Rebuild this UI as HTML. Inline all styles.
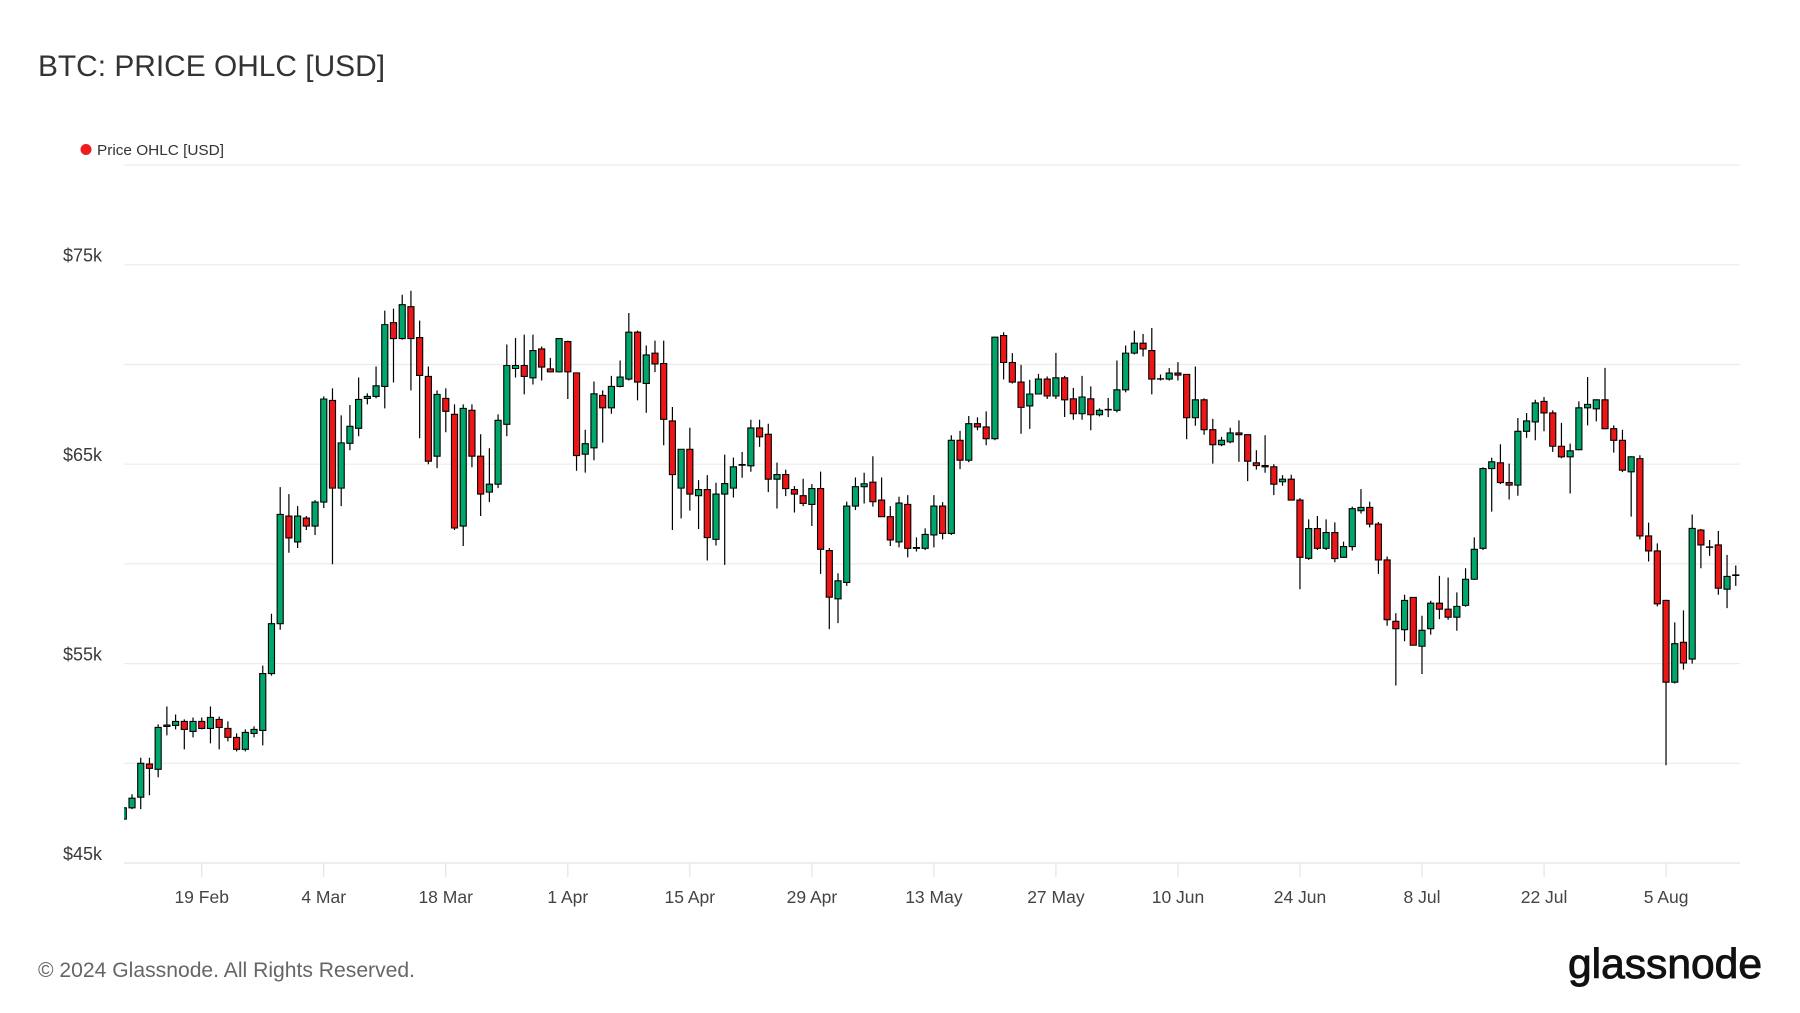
<!DOCTYPE html>
<html><head><meta charset="utf-8"><style>
html,body{margin:0;padding:0;background:#fff;}
svg{display:block;}
text{font-family:"Liberation Sans",Arial,sans-serif;}
</style></head><body>
<svg width="1800" height="1013" viewBox="0 0 1800 1013" xmlns="http://www.w3.org/2000/svg">
<rect width="1800" height="1013" fill="#fff"/>
<text x="38" y="76" font-size="30" fill="#333" textLength="347" lengthAdjust="spacingAndGlyphs">BTC: PRICE OHLC [USD]</text>
<circle cx="86" cy="149.5" r="5.5" fill="#ee1c1c"/>
<text x="97" y="155" font-size="15" fill="#333" textLength="127" lengthAdjust="spacingAndGlyphs">Price OHLC [USD]</text>
<g stroke="#ececec" stroke-width="1.2">
<line x1="124" y1="165" x2="1740" y2="165"/>
<line x1="124" y1="264.8" x2="1740" y2="264.8"/>
<line x1="124" y1="364.5" x2="1740" y2="364.5"/>
<line x1="124" y1="464.2" x2="1740" y2="464.2"/>
<line x1="124" y1="563.9" x2="1740" y2="563.9"/>
<line x1="124" y1="663.6" x2="1740" y2="663.6"/>
<line x1="124" y1="763.3" x2="1740" y2="763.3"/>
</g>
<g stroke="#e4e4e4" stroke-width="1.2">
<line x1="124" y1="863" x2="1740" y2="863"/>
<line x1="201.7" y1="863" x2="201.7" y2="877"/>
<line x1="323.7" y1="863" x2="323.7" y2="877"/>
<line x1="445.7" y1="863" x2="445.7" y2="877"/>
<line x1="567.8" y1="863" x2="567.8" y2="877"/>
<line x1="689.8" y1="863" x2="689.8" y2="877"/>
<line x1="811.9" y1="863" x2="811.9" y2="877"/>
<line x1="933.9" y1="863" x2="933.9" y2="877"/>
<line x1="1055.9" y1="863" x2="1055.9" y2="877"/>
<line x1="1178" y1="863" x2="1178" y2="877"/>
<line x1="1300" y1="863" x2="1300" y2="877"/>
<line x1="1422" y1="863" x2="1422" y2="877"/>
<line x1="1544.1" y1="863" x2="1544.1" y2="877"/>
<line x1="1666.1" y1="863" x2="1666.1" y2="877"/>
</g>
<g font-size="18" fill="#3a3a3a" text-anchor="end">
<text x="102" y="261.5">$75k</text>
<text x="102" y="461">$65k</text>
<text x="102" y="660.5">$55k</text>
<text x="102" y="860">$45k</text>
</g>
<g font-size="17.5" fill="#444" text-anchor="middle">
<text x="201.7" y="903">19 Feb</text>
<text x="323.7" y="903">4 Mar</text>
<text x="445.7" y="903">18 Mar</text>
<text x="567.8" y="903">1 Apr</text>
<text x="689.8" y="903">15 Apr</text>
<text x="811.9" y="903">29 Apr</text>
<text x="933.9" y="903">13 May</text>
<text x="1055.9" y="903">27 May</text>
<text x="1178" y="903">10 Jun</text>
<text x="1300" y="903">24 Jun</text>
<text x="1422" y="903">8 Jul</text>
<text x="1544.1" y="903">22 Jul</text>
<text x="1666.1" y="903">5 Aug</text>
</g>
<defs><clipPath id="pc"><rect x="124" y="140" width="1618" height="723"/></clipPath></defs>
<g clip-path="url(#pc)">
<g transform="matrix(8.716 0 0 -19.94 123.3 1760.3)">
<path fill="none" stroke="#000" stroke-width="1.2" vector-effect="non-scaling-stroke" d="M0 47.1V48.2M1 47.7V48.45M2 47.7V50.28M3 48.4V50.28M4 49.3V51.95M5 51.4V52.85M6 51.7V52.45M7 50.7V52.2M8 51.3V52.3M9 51.7V52.3M10 51V52.85M11 50.7V52.35M12 51.1V52.1M13 50.6V51.5M14 50.6V51.7M15 51.3V51.85M16 50.9V54.9M17 54.4V57.5M18 56.7V63.85M19 60.56V63.5M20 60.8V62.9M21 61.7V62.4M22 61.45V63.2M23 62.8V68.4M24 59.98V68.8M25 62.9V67.45M26 65.7V67.97M27 66.4V69.35M28 68V68.55M29 68.3V69.9M30 67.8V72.7M31 69.1V72.8M32 71.25V73.5M33 68.7V73.7M34 66.3V72.2M35 65V69.9M36 64.8V68.7M37 66.6V68.8M38 61.7V68M39 60.9V68M40 64.85V68M41 62.4V66.5M42 63.1V65.8M43 63.8V67.5M44 66.4V71M45 69.35V71.33M46 68.5V71.5M47 69V71.5M48 69.2V70.9M49 69.6V70.33M50 69.6V71.33M51 68.27V71.2M52 64.67V69.6M53 64.58V66.73M54 65.2V69.15M55 66.08V68.7M56 67.53V69.43M57 68.85V70.2M58 69.2V72.58M59 68.2V71.7M60 67.58V70.95M61 69.62V71.2M62 65.95V71.2M63 61.7V67.87M64 62.28V65.75M65 62.67V66.83M66 61.75V64.2M67 60.17V64.45M68 60.92V64.07M69 59.95V65.48M70 63.33V65.33M71 64.32V65.62M72 64.62V67.23M73 65.87V67.23M74 63.6V67.03M75 62.78V65.08M76 63.4V64.73M77 62.58V63.9M78 62.9V64.27M79 61.9V64M80 59.5V64.63M81 56.73V60.8M82 57.03V59.53M83 58.9V63.12M84 62.7V64.33M85 63.03V64.57M86 62.87V65.4M87 62.35V64.33M88 60.9V62.9M89 60.83V63.37M90 60.33V63.45M91 60.62V61.33M92 60.7V61.78M93 60.83V63.45M94 61.23V63.1M95 61.45V66.45M96 64.75V66.67M97 65.1V67.42M98 66.7V67.35M99 65.95V67.65M100 66.2V71.4M101 69.25V71.62M102 69.05V70.57M103 66.53V69.98M104 66.77V69.23M105 68.5V69.53M106 68.27V69.4M107 68.27V70.58M108 67.37V69.43M109 67.23V68.83M110 67.23V69.43M111 66.7V68.9M112 67.4V67.8M113 67.37V68.32M114 67.6V70.2M115 68.6V70.95M116 70.5V71.7M117 70.4V71.53M118 68.5V71.83M119 69.2V69.5M120 69.2V69.82M121 69.2V70.12M122 66.25V69.5M123 66.93V69.9M124 66.48V68.3M125 65.03V67.27M126 65.9V66.37M127 66.05V66.83M128 65.12V67.2M129 64.15V66.48M130 64.73V65.7M131 64.57V66.45M132 63.45V65M133 63.92V64.45M134 63.2V64.47M135 58.73V63.3M136 60.2V62.23M137 60.7V62.4M138 60.7V62.23M139 60.08V62.08M140 60.3V61.12M141 60.67V62.87M142 62.53V63.75M143 61.83V63.12M144 59.5V62.1M145 56.9V60.37M146 53.9V57.53M147 56.12V58.45M148 55.92V58.32M149 54.48V57.4M150 56.45V58.15M151 57.23V59.4M152 57.2V59.32M153 56.65V58.57M154 57.85V59.78M155 59.2V61.33M156 60.7V64.85M157 62.62V65.33M158 64V66M159 63.23V65.03M160 63.42V67.32M161 66.32V67.57M162 66.2V68.23M163 66.65V68.37M164 65.62V67.7M165 65.3V67.07M166 63.53V66.03M167 65.7V68.15M168 66.95V69.37M169 67.15V68.25M170 66.75V69.83M171 65.58V66.95M172 64.6V66.73M173 62.37V65.4M174 61.23V65.45M175 60.12V62.07M176 57.87V61.03M177 49.9V58.2M178 54V57.07M179 54.7V57.67M180 55V62.48M181 59.78V61.75M182 60.4V61.2M183 58.45V61.65M184 57.78V60.45M185 58.9V59.92"/>
<path fill="#00a66a" stroke="#000" stroke-width="1.1" vector-effect="non-scaling-stroke" d="M-0.35 47.2H0.35V47.77H-0.35ZM0.65 47.77H1.35V48.25H0.65ZM1.65 48.3H2.35V50H1.65ZM3.65 49.7H4.35V51.8H3.65ZM4.65 51.85H5.35V51.92H4.65ZM5.65 51.9H6.35V52.1H5.65ZM7.65 51.6H8.35V52.1H7.65ZM9.65 51.75H10.35V52.3H9.65ZM13.65 50.7H14.35V51.55H13.65ZM14.65 51.5H15.35V51.7H14.65ZM15.65 51.65H16.35V54.5H15.65ZM16.65 54.5H17.35V57H16.65ZM17.65 57H18.35V62.48H17.65ZM19.65 61.1H20.35V62.4H19.65ZM21.65 61.9H22.35V63.1H21.65ZM22.65 63.1H23.35V68.27H22.65ZM24.65 63.8H25.35V66.07H24.65ZM25.65 66.05H26.35V66.9H25.65ZM26.65 66.8H27.35V68.25H26.65ZM27.65 68.3H28.35V68.4H27.65ZM28.65 68.4H29.35V68.93H28.65ZM29.65 68.9H30.35V72H29.65ZM31.65 71.3H32.35V73H31.65ZM35.65 65.4H36.35V68.5H35.65ZM38.65 61.9H39.35V67.8H38.65ZM41.65 63.6H42.35V64H41.65ZM42.65 64H43.35V67.2H42.65ZM43.65 67H44.35V69.95H43.65ZM44.65 69.8H45.35V69.95H44.65ZM46.65 69.33H47.35V70.7H46.65ZM49.65 69.63H50.35V71.3H49.65ZM52.65 65.5H53.35V66.03H52.65ZM53.65 65.82H54.35V68.53H53.65ZM55.65 67.83H56.35V68.9H55.65ZM56.65 68.9H57.35V69.37H56.65ZM57.65 69.27H58.35V71.62H57.65ZM59.65 69.05H60.35V70.48H59.65ZM63.65 63.8H64.35V65.75H63.65ZM65.65 63.42H66.35V63.73H65.65ZM67.65 61.23H68.35V63.5H67.65ZM68.65 63.5H69.35V64.03H68.65ZM69.65 63.8H70.35V64.87H69.65ZM71.65 64.92H72.35V66.82H71.65ZM74.65 64.25H75.35V64.48H74.65ZM78.65 62.98H79.35V63.78H78.65ZM81.65 58.25H82.35V59.15H81.65ZM82.65 59.07H83.35V62.9H82.65ZM83.65 62.9H84.35V63.87H83.65ZM84.65 63.87H85.35V64.02H84.65ZM88.65 61.1H89.35V63.05H88.65ZM90.65 60.78H91.35V60.82H90.65ZM91.65 60.78H92.35V61.48H91.65ZM92.65 61.45H93.35V62.9H92.65ZM94.65 61.53H95.35V66.2H94.65ZM96.65 65.2H97.35V67.03H96.65ZM99.65 66.28H100.35V71.37H99.65ZM103.65 67.92H104.35V68.52H103.65ZM104.65 68.52H105.35V69.27H104.65ZM106.65 68.42H107.35V69.33H106.65ZM109.65 67.53H110.35V68.37H109.65ZM111.65 67.48H112.35V67.7H111.65ZM112.65 67.73H113.35V67.75H112.65ZM113.65 67.7H114.35V68.73H113.65ZM114.65 68.73H115.35V70.57H114.65ZM115.65 70.57H116.35V71.07H115.65ZM118.65 69.27H119.35V69.28H118.65ZM119.65 69.27H120.35V69.57H119.65ZM122.65 67.33H123.35V68.23H122.65ZM125.65 65.98H126.35V66.2H125.65ZM126.65 66.12H127.35V66.57H126.65ZM132.65 64.12H133.35V64.25H132.65ZM135.65 60.28H136.35V61.77H135.65ZM137.65 60.78H138.35V61.57H137.65ZM139.65 60.33H140.35V60.87H139.65ZM140.65 60.87H141.35V62.77H140.65ZM141.65 62.67H142.35V62.83H141.65ZM146.65 56.7H147.35V58.17H146.65ZM148.65 55.87H149.35V56.67H148.65ZM149.65 56.75H150.35V58.03H149.65ZM152.65 57.33H153.35V57.87H152.65ZM153.65 57.92H154.35V59.23H153.65ZM154.65 59.23H155.35V60.73H154.65ZM155.65 60.78H156.35V64.78H155.65ZM156.65 64.78H157.35V65.12H156.65ZM159.65 63.95H160.35V66.65H159.65ZM160.65 66.65H161.35V67.17H160.65ZM161.65 67.12H162.35V68.07H161.65ZM165.65 65.37H166.35V65.67H165.65ZM166.65 65.73H167.35V67.83H166.65ZM167.65 67.83H168.35V68H167.65ZM168.65 67.78H169.35V68.23H168.65ZM172.65 64.62H173.35V65.37H172.65ZM177.65 54.07H178.35V56H177.65ZM179.65 55.23H180.35V61.78H179.65ZM181.65 60.83H182.35V60.85H181.65ZM183.65 58.73H184.35V59.37H183.65ZM184.65 59.42H185.35V59.45H184.65Z"/>
<path fill="#ec1616" stroke="#000" stroke-width="1.1" vector-effect="non-scaling-stroke" d="M2.65 49.96H3.35V49.75H2.65ZM6.65 52.1H7.35V51.7H6.65ZM8.65 52.1H9.35V51.75H8.65ZM10.65 52.2H11.35V51.8H10.65ZM11.65 51.75H12.35V51.3H11.65ZM12.65 51.3H13.35V50.7H12.65ZM18.65 62.4H19.35V61.3H18.65ZM20.65 62.3H21.35V61.9H20.65ZM23.65 68.2H24.35V63.8H23.65ZM30.65 72.1H31.35V71.3H30.65ZM32.65 72.9H33.35V71.3H32.65ZM33.65 71.35H34.35V69.45H33.65ZM34.65 69.4H35.35V65.15H34.65ZM36.65 68.3H37.35V67.65H36.65ZM37.65 67.5H38.35V61.8H37.65ZM39.65 67.7H40.35V65.4H39.65ZM40.65 65.4H41.35V63.5H40.65ZM45.65 69.95H46.35V69.4H45.65ZM47.65 70.78H48.35V69.87H47.65ZM48.65 69.78H49.35V69.63H48.65ZM50.65 71.15H51.35V69.63H50.65ZM51.65 69.58H52.35V65.43H51.65ZM54.65 68.45H55.35V67.83H54.65ZM58.65 71.62H59.35V69.12H58.65ZM60.65 70.57H61.35V70.03H60.65ZM61.65 70.05H62.35V67.25H61.65ZM62.65 67.17H63.35V64.48H62.65ZM64.65 65.75H65.35V63.5H64.65ZM66.65 63.73H67.35V61.32H66.65ZM70.65 64.98H71.35V64.95H70.65ZM72.65 66.82H73.35V66.37H72.65ZM73.65 66.5H74.35V64.25H73.65ZM75.65 64.48H76.35V63.78H75.65ZM76.65 63.73H77.35V63.5H76.65ZM77.65 63.42H78.35V63.03H77.65ZM79.65 63.78H80.35V60.73H79.65ZM80.65 60.67H81.35V58.33H80.65ZM85.65 64.1H86.35V63.12H85.65ZM86.65 63.2H87.35V62.37H86.65ZM87.65 62.37H88.35V61.2H87.65ZM89.65 62.98H90.35V60.78H89.65ZM93.65 62.9H94.35V61.53H93.65ZM95.65 66.2H96.35V65.2H95.65ZM97.65 67.03H98.35V66.87H97.65ZM98.65 66.87H99.35V66.28H98.65ZM100.65 71.45H101.35V70.1H100.65ZM101.65 70.1H102.35V69.12H101.65ZM102.65 69.12H103.35V67.85H102.65ZM105.65 69.27H106.35V68.42H105.65ZM107.65 69.33H108.35V68.23H107.65ZM108.65 68.28H109.35V67.53H108.65ZM110.65 68.28H111.35V67.48H110.65ZM116.65 71.07H117.35V70.78H116.65ZM117.65 70.7H118.35V69.27H117.65ZM120.65 69.57H121.35V69.47H120.65ZM121.65 69.5H122.35V67.33H121.65ZM123.65 68.23H124.35V66.73H123.65ZM124.65 66.73H125.35V65.98H124.65ZM127.65 66.57H128.35V66.48H127.65ZM128.65 66.48H129.35V65.15H128.65ZM129.65 65.07H130.35V64.93H129.65ZM130.65 64.93H131.35V64.87H130.65ZM131.65 64.87H132.35V64H131.65ZM133.65 64.25H134.35V63.2H133.65ZM134.65 63.2H135.35V60.33H134.65ZM136.65 61.77H137.35V60.78H136.65ZM138.65 61.57H139.35V60.27H138.65ZM142.65 62.83H143.35V62H142.65ZM143.65 62H144.35V60.2H143.65ZM144.65 60.2H145.35V57.2H144.65ZM145.65 57.12H146.35V56.75H145.65ZM147.65 58.32H148.35V55.92H147.65ZM150.65 58.03H151.35V57.73H150.65ZM151.65 57.73H152.35V57.33H151.65ZM157.65 65.07H158.35V64.08H157.65ZM158.65 64.08H159.35V63.95H158.65ZM162.65 68.15H163.35V67.57H162.65ZM163.65 67.57H164.35V65.9H163.65ZM164.65 65.9H165.35V65.37H164.65ZM169.65 68.23H170.35V66.78H169.65ZM170.65 66.78H171.35V66.2H170.65ZM171.65 66.2H172.35V64.7H171.65ZM173.65 65.28H174.35V61.4H173.65ZM174.65 61.4H175.35V60.65H174.65ZM175.65 60.65H176.35V58H175.65ZM176.65 58.17H177.35V54.07H176.65ZM178.65 56.07H179.35V55.03H178.65ZM180.65 61.7H181.35V60.95H180.65ZM182.65 60.95H183.35V58.78H182.65Z"/>
</g>
</g>
<text x="38" y="977" font-size="21" fill="#666" textLength="377" lengthAdjust="spacingAndGlyphs">© 2024 Glassnode. All Rights Reserved.</text>
<text x="1568" y="978" font-size="42" fill="#111" stroke="#111" stroke-width="0.9" textLength="194" lengthAdjust="spacingAndGlyphs">glassnode</text>
</svg>
</body></html>
